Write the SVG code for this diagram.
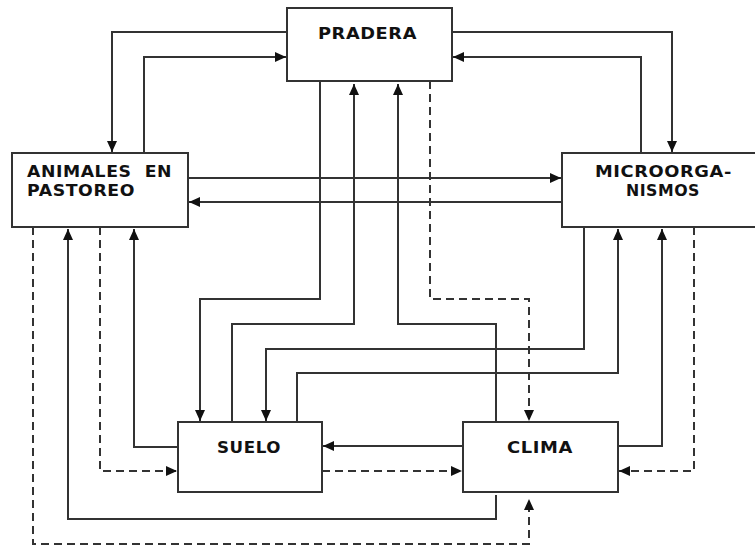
<svg xmlns="http://www.w3.org/2000/svg" width="755" height="546" viewBox="0 0 755 546">
<style>
.box{fill:#fff;stroke:#333;stroke-width:2}
.lbl{font-family:"DejaVu Sans",Verdana,sans-serif;font-weight:bold;font-size:15px;fill:#111;letter-spacing:0.5px}
.c{fill:none;stroke:#333;stroke-width:2}
.d{stroke-dasharray:8 5}
</style>
<defs>
<marker id="ah" markerUnits="userSpaceOnUse" markerWidth="12" markerHeight="11" refX="11" refY="5.5" orient="auto">
<path d="M0,0.5 L11,5.5 L0,10.5 z" fill="#111"/>
</marker>
</defs>
<rect width="755" height="546" fill="#fff"/>
<g id="connectors">
<path class="c" d="M287,32 H112 V152" marker-end="url(#ah)"/>
<path class="c" d="M144,153 V57 H286" marker-end="url(#ah)"/>
<path class="c" d="M452,32 H672 V152" marker-end="url(#ah)"/>
<path class="c" d="M641,153 V57 H453" marker-end="url(#ah)"/>
<path class="c" d="M188,178 H561" marker-end="url(#ah)"/>
<path class="c" d="M562,202 H189" marker-end="url(#ah)"/>
<path class="c" d="M320,81 V299 H200 V421" marker-end="url(#ah)"/>
<path class="c" d="M232,422 V324 H354 V84" marker-end="url(#ah)"/>
<path class="c d" d="M430,81 V299 H529 V421" marker-end="url(#ah)"/>
<path class="c" d="M496,422 V324 H398 V84" marker-end="url(#ah)"/>
<path class="c" d="M584,227 V349 H266 V421" marker-end="url(#ah)"/>
<path class="c" d="M297,422 V373 H618 V229" marker-end="url(#ah)"/>
<path class="c" d="M618,446 H662 V229" marker-end="url(#ah)"/>
<path class="c d" d="M694,227 V471 H619" marker-end="url(#ah)"/>
<path class="c" d="M463,446 H323" marker-end="url(#ah)"/>
<path class="c d" d="M322,471 H462" marker-end="url(#ah)"/>
<path class="c" d="M178,447 H134 V229" marker-end="url(#ah)"/>
<path class="c d" d="M100,227 V471 H177" marker-end="url(#ah)"/>
<path class="c" d="M496,495 V519 H68 V229" marker-end="url(#ah)"/>
<path class="c d" d="M33,227 V544 H529 V499" marker-end="url(#ah)"/>
</g>
<g id="pradera">
<rect class="box" x="287" y="8" width="165" height="73"/>
<text class="lbl" x="318" y="38.5" textLength="99" lengthAdjust="spacingAndGlyphs">PRADERA</text>
</g>
<g id="animales">
<rect class="box" x="12" y="153" width="176" height="74"/>
<text class="lbl" x="27" y="176.5" textLength="145" lengthAdjust="spacingAndGlyphs" xml:space="preserve">ANIMALES  EN</text>
<text class="lbl" x="27" y="195.5" textLength="108" lengthAdjust="spacingAndGlyphs">PASTOREO</text>
</g>
<g id="microorganismos">
<rect class="box" x="562" y="153" width="200" height="74"/>
<text class="lbl" x="595" y="176.5" textLength="137" lengthAdjust="spacingAndGlyphs">MICROORGA-</text>
<text class="lbl" x="626" y="195.5" textLength="74" lengthAdjust="spacingAndGlyphs">NISMOS</text>
</g>
<g id="suelo">
<rect class="box" x="178" y="422" width="144" height="70"/>
<text class="lbl" x="217" y="452.5" textLength="64" lengthAdjust="spacingAndGlyphs">SUELO</text>
</g>
<g id="clima">
<rect class="box" x="463" y="422" width="155" height="70"/>
<text class="lbl" x="507" y="452.5" textLength="66" lengthAdjust="spacingAndGlyphs">CLIMA</text>
</g>
</svg>
